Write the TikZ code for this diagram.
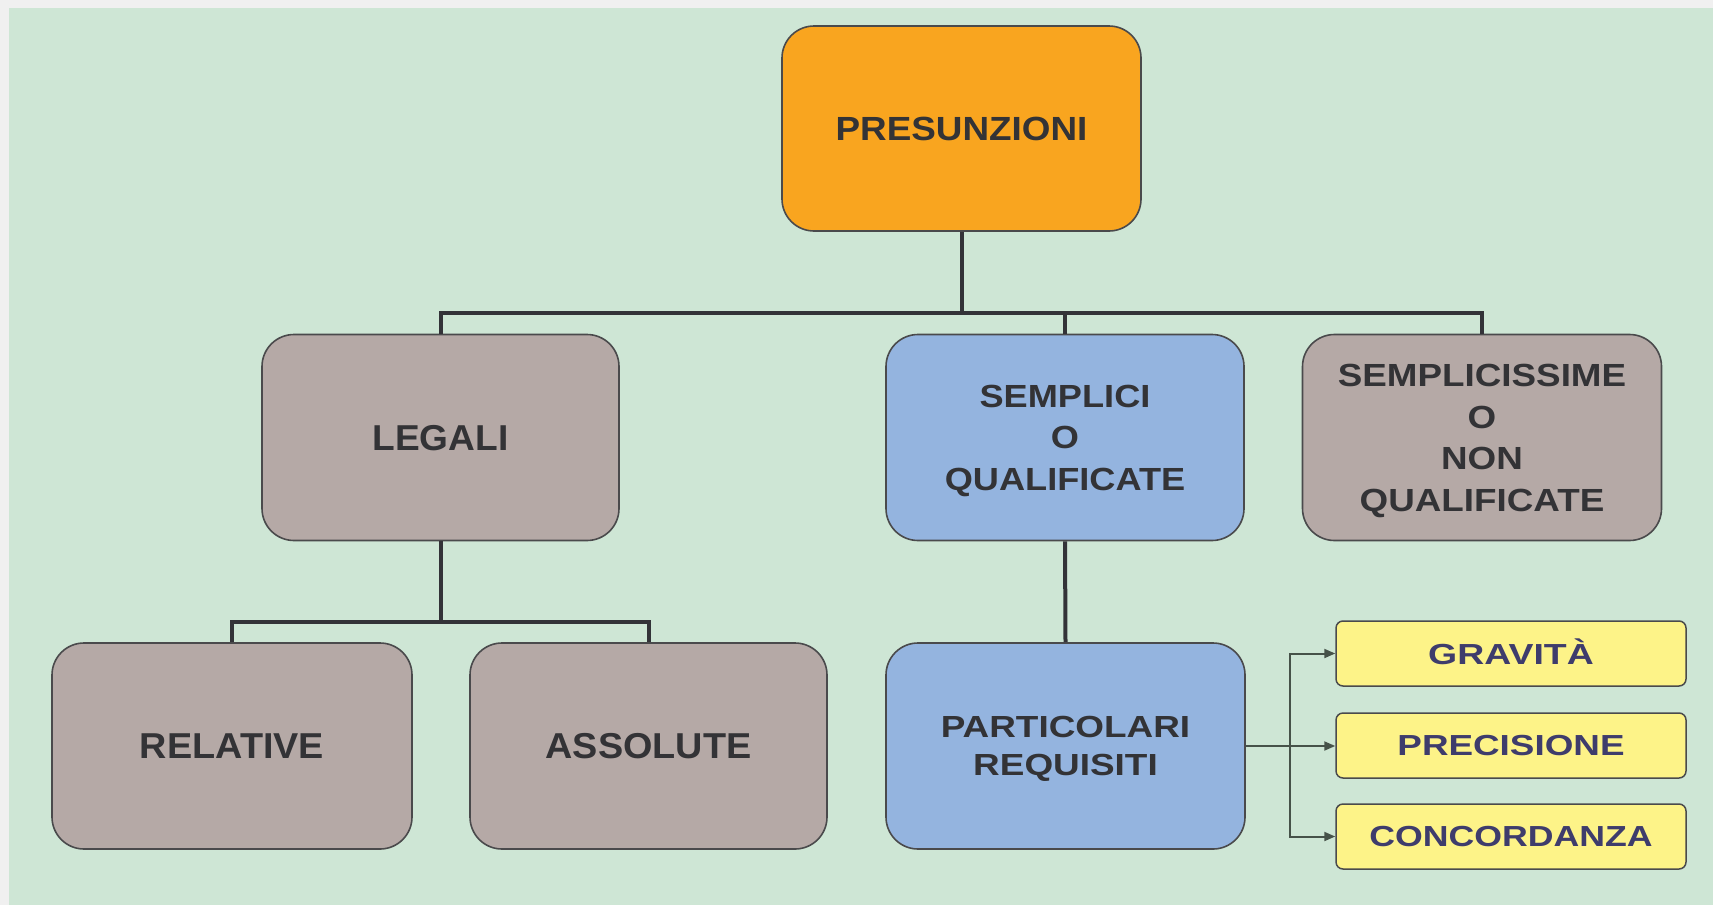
\documentclass[tikz,border=0pt]{standalone}
\usepackage{fontspec}
\setmainfont{Liberation Sans}
\usepackage{graphicx}
\usetikzlibrary{arrows.meta}
\definecolor{outergray}{HTML}{F0F0F0}
\definecolor{bggreen}{HTML}{CEE6D5}
\definecolor{orangebox}{HTML}{F9A51F}
\definecolor{taupebox}{HTML}{B5A9A6}
\definecolor{bluebox}{HTML}{94B4DF}
\definecolor{yellowbox}{HTML}{FDF388}
\definecolor{boxline}{HTML}{4A4A4C}
\definecolor{connline}{HTML}{333338}
\definecolor{arrline}{HTML}{465249}
\definecolor{maintxt}{HTML}{333336}
\definecolor{ytxt}{HTML}{3E3C6C}
\newsavebox\lblbox
\newlength\lblshift
% #1 horizontal scale, #2 font size, #3 leading, #4 lines
\newcommand\lbl[4]{%
  \sbox\lblbox{\scalebox{#1}[1]{\fontsize{#2}{#3}\selectfont\bfseries\begin{tabular}{@{}c@{}}#4\end{tabular}}}%
  \setlength\lblshift{\dimexpr 0.358\dimexpr#2\relax - 0.2\dimexpr#3\relax\relax}%
  \raisebox{0pt}[\dimexpr\ht\lblbox+\lblshift\relax][\dimexpr\dp\lblbox-\lblshift\relax]{\usebox\lblbox}}
\tikzset{
  bigbox/.style={draw=boxline, line width=1.6pt, rounded corners=32pt, inner sep=0pt, text=maintxt},
  ybox/.style={draw=boxline, line width=1.5pt, rounded corners=7pt, fill=yellowbox, inner sep=0pt, text=ytxt,
    minimum width=350pt, minimum height=65pt},
  conn/.style={draw=connline, line width=4pt},
  arrconn/.style={draw=arrline, line width=2pt, -{Triangle[length=11pt,width=9pt]}},
}
\begin{document}
\begin{tikzpicture}[x=1pt,y=-1pt]
\useasboundingbox (0,0) rectangle (1713,905);
\fill[outergray] (0,0) rectangle (1713,905);
\fill[bggreen] (9,8) rectangle (1713,905);

\node[bigbox, fill=orangebox, minimum width=359pt, minimum height=205pt] (pres) at (961.5,128.5)
  {\lbl{1.1}{33.5pt}{40pt}{PRESUNZIONI}};
\node[bigbox, fill=taupebox, minimum width=357pt, minimum height=206pt] (legali) at (440.5,437.5)
  {\lbl{1.03}{36pt}{40pt}{LEGALI}};
\node[bigbox, fill=bluebox, minimum width=358pt, minimum height=206pt] (sempl) at (1065,437.5)
  {\lbl{1.13}{32pt}{41.7pt}{SEMPLICI\\O\\QUALIFICATE}};
\node[bigbox, fill=taupebox, minimum width=359pt, minimum height=206pt] (semplis) at (1482,437.5)
  {\lbl{1.15}{32pt}{41.7pt}{SEMPLICISSIME\\O\\NON\\QUALIFICATE}};
\node[bigbox, fill=taupebox, minimum width=360pt, minimum height=206pt] (rel) at (232,746)
  {\lbl{1.05}{36pt}{40pt}{RELATIVE}};
\node[bigbox, fill=taupebox, minimum width=357pt, minimum height=206pt] (ass) at (648.5,746)
  {\lbl{1.05}{36pt}{40pt}{ASSOLUTE}};
\node[bigbox, fill=bluebox, minimum width=359pt, minimum height=206pt] (part) at (1065.5,746)
  {\lbl{1.21}{30.5pt}{38pt}{PARTICOLARI\\REQUISITI}};

\node[ybox] (grav) at (1511,653.5) {\lbl{1.29}{29pt}{34pt}{GRAVITÀ}};
\node[ybox] (prec) at (1511,745.5) {\lbl{1.27}{29pt}{34pt}{PRECISIONE}};
\node[ybox] (conc) at (1511,836.5) {\lbl{1.23}{29pt}{34pt}{CONCORDANZA}};

% top bus
\coordinate (bus1) at (961.5,313);
\draw[conn] (pres.south) -- (bus1);
\draw[conn] (legali.north) |- (bus1) -| (semplis.north);
\draw[conn] (bus1 -| sempl.north) -- (sempl.north);
% legali bus
\coordinate (bus2) at (440.5,622);
\draw[conn] (legali.south) -- (bus2);
\draw[conn] (rel.north) |- (bus2) -| (ass.north);
% semplici to particolari
\draw[conn] (sempl.south) -- (part.north);
% requisiti arrows
\coordinate (fork) at (1290,746);
\draw[draw=arrline, line width=2pt] (part.east) -- (fork);
\draw[arrconn] (fork) |- (grav.west);
\draw[arrconn] (fork) -- (prec.west |- fork);
\draw[arrconn] (fork) |- (conc.west);
\end{tikzpicture}
\end{document}
